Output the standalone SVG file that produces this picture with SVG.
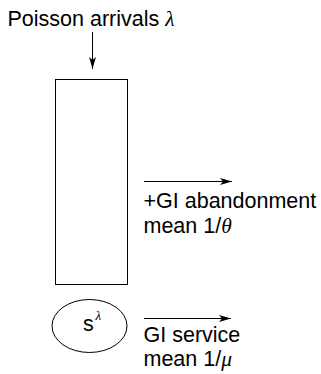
<svg xmlns="http://www.w3.org/2000/svg" width="321" height="374" viewBox="0 0 321 374">
<style>
.t{font-family:"Liberation Sans",Arial,sans-serif;font-size:21.5px;fill:#000}
.m{font-family:"Liberation Serif","Times New Roman",serif;font-style:italic}
.s{fill:none;stroke:#000;stroke-width:1}
</style>
<defs>
<marker id="ah" markerUnits="userSpaceOnUse" markerWidth="14" markerHeight="10" refX="12" refY="4" orient="auto" viewBox="0 0 14 10">
<path d="M12,4 L0,0.6 L3,4 L0,7.4 z" fill="#000"/>
</marker>
</defs>
<g id="arrivals-label"><text class="t" x="7.5" y="25.5">Poisson arrivals <tspan class="m">λ</tspan></text></g>
<g id="queue"><rect class="s" x="55.5" y="79.5" width="72" height="205"/></g>
<g id="server"><ellipse class="s" cx="89.5" cy="326" rx="37.5" ry="26.5"/><text class="t" x="83" y="331">s</text><text class="t m" x="95.5" y="320" style="font-size:13px">λ</text></g>
<g id="abandon-label"><text class="t" x="143.5" y="207.5">+GI abandonment</text><text class="t" x="143.5" y="232.5">mean 1/<tspan class="m">θ</tspan></text></g>
<g id="service-label"><text class="t" x="143.5" y="342">GI service</text><text class="t" x="143.5" y="366">mean 1/<tspan class="m">μ</tspan></text></g>
<g id="connectors">
<line class="s" x1="92.5" y1="32" x2="92.5" y2="69" marker-end="url(#ah)"/>
<line class="s" x1="144" y1="181.5" x2="232" y2="181.5" marker-end="url(#ah)"/>
<line class="s" x1="144" y1="318.5" x2="231" y2="318.5" marker-end="url(#ah)"/>
</g>
</svg>
